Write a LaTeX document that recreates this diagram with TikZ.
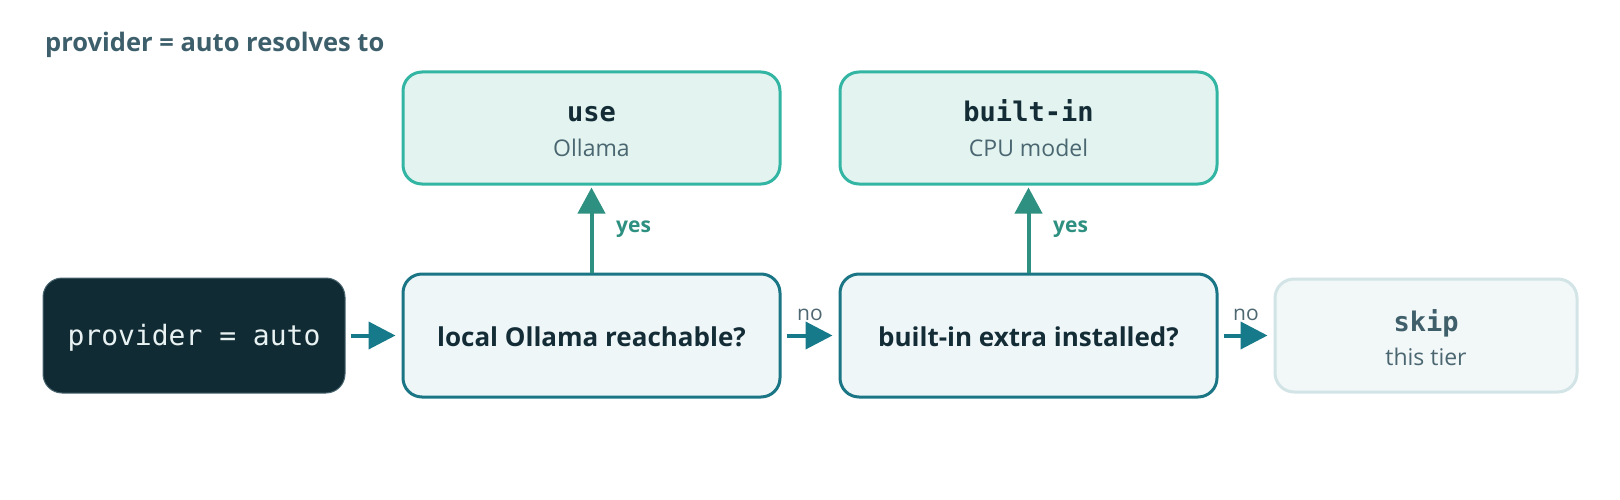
\documentclass[tikz,border=0pt]{standalone}
\usepackage{fontspec}
\setmainfont{Open Sans}
\setmonofont{DejaVu Sans Mono}
\usetikzlibrary{arrows.meta}
\definecolor{titlec}{HTML}{3D5F6B}
\definecolor{darkfill}{HTML}{112B34}
\definecolor{darkline}{HTML}{4A6670}
\definecolor{monow}{HTML}{E8F2F2}
\definecolor{qfill}{HTML}{EEF6F8}
\definecolor{qline}{HTML}{1A7585}
\definecolor{qtextc}{HTML}{132C36}
\definecolor{rfill}{HTML}{E3F4F0}
\definecolor{rline}{HTML}{33B5A3}
\definecolor{subc}{HTML}{4A6670}
\definecolor{sfill}{HTML}{F2F7F8}
\definecolor{sline}{HTML}{D2E4E6}
\definecolor{skipc}{HTML}{3F5F6A}
\definecolor{harc}{HTML}{177A8A}
\definecolor{varc}{HTML}{2E9080}
\definecolor{noc}{HTML}{4E6770}
\tikzset{
  box/.style={rectangle, rounded corners=19pt, line width=3pt, inner sep=0pt},
  darkbox/.style={box, fill=darkfill, draw=darkline, line width=1pt, minimum width=302pt, minimum height=115pt},
  qbox/.style={box, fill=qfill, draw=qline, minimum width=377pt, minimum height=123pt},
  rbox/.style={box, fill=rfill, draw=rline, minimum width=377pt, minimum height=112pt},
  sbox/.style={box, fill=sfill, draw=sline, minimum width=302pt, minimum height=113pt},
  txt/.style={anchor=base, inner sep=0pt},
  titletxt/.style={txt, anchor=base west, font=\fontsize{25.5}{30}\selectfont\bfseries, text=titlec},
  monotxt/.style={txt, font=\fontsize{28}{33}\selectfont\ttfamily, text=monow},
  qtxt/.style={txt, font=\fontsize{26}{31}\selectfont\bfseries, text=qtextc},
  headtxt/.style={txt, font=\fontsize{27}{32}\selectfont\ttfamily\bfseries, text=qtextc},
  subtxt/.style={txt, font=\fontsize{23}{27}\selectfont, text=subc},
  notxt/.style={txt, font=\fontsize{21}{25}\selectfont, text=noc},
  yestxt/.style={txt, anchor=base west, font=\fontsize{21}{25}\selectfont\bfseries, text=varc},
  harrow/.style={draw=harc, line width=4pt, -{Triangle[length=27pt,width=27pt]}, shorten <=5pt, shorten >=6pt},
  varrow/.style={draw=varc, line width=4pt, -{Triangle[length=26pt,width=27pt]}, shorten >=2pt},
}
\begin{document}
\begin{tikzpicture}[x=1pt, y=-1pt]
\useasboundingbox (0,0) rectangle (1620,500);
\node[titletxt] (title) at (45,52) {provider = auto resolves to};
% boxes
\node[darkbox] (dark) at (194,335.5) {};
\node[qbox] (q1) at (591.5,335.5) {};
\node[qbox] (q2) at (1028.5,335.5) {};
\node[sbox] (skip) at (1426,335.5) {};
\node[rbox] (use) at (591.5,128) {};
\node[rbox] (bin) at (1028.5,128) {};
% texts
\node[monotxt] (darkt) at (194,345) {provider = auto};
\node[qtxt] (q1t) at (591.5,346) {local Ollama reachable?};
\node[qtxt] (q2t) at (1028.5,346) {built-in extra installed?};
\node[headtxt] (uset) at (591.5,122) {use};
\node[subtxt] (uses) at (591.5,157) {Ollama};
\node[headtxt] (bint) at (1028.5,122) {built-in};
\node[subtxt] (bins) at (1028.5,157) {CPU model};
\node[headtxt, text=skipc] (skipt) at (1426,331) {skip};
\node[subtxt] (skips) at (1426,365) {this tier};
% arrows
\draw[harrow] (dark.east) -- (q1.west);
\draw[harrow] (q1.east) -- (q2.west);
\draw[harrow] (q2.east) -- (skip.west);
\draw[varrow] (q1.north) -- (use.south);
\draw[varrow] (q2.north) -- (bin.south);
% labels
\node[notxt] (no1) at (810,320) {no};
\node[notxt] (no2) at (1246,320) {no};
\node[yestxt] (yes1) at (616,232) {yes};
\node[yestxt] (yes2) at (1053,232) {yes};
\end{tikzpicture}
\end{document}
